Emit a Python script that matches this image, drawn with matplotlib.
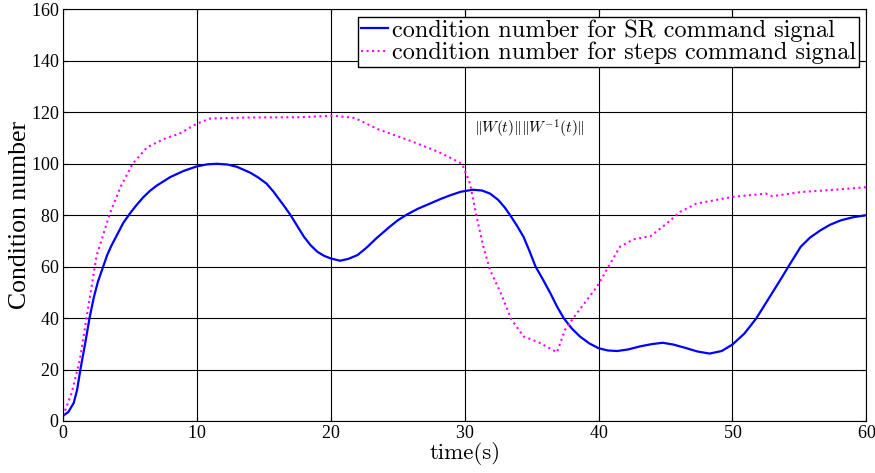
import matplotlib
matplotlib.use("Agg")
import matplotlib.pyplot as plt

# condition number for the SR command signal
t_sr = [0, 0.4, 0.8, 1.05, 1.3, 1.65, 2.0, 2.3, 2.6, 3.0, 3.3, 3.6, 4, 4.5, 5, 5.5,
        6, 6.5, 7, 8, 9, 10, 10.8, 11.5, 12.3, 13, 14, 14.6, 15.2, 15.7, 16.2, 16.6,
        17, 17.5, 18, 18.5, 19, 19.5, 20, 20.7, 21.3, 22, 22.7, 23.4, 24.4, 25, 25.6,
        26.5, 27.4, 28.2, 28.9, 29.7, 30.6, 31.3, 31.9, 32.5, 33, 33.4, 33.9, 34.4,
        34.85, 35.3, 35.85, 36.4, 36.9, 37.4, 38, 38.6, 39.3, 40, 40.7, 41.4, 42.2,
        43.1, 44, 44.8, 45.6, 46.5, 47.4, 48.3, 49.2, 50, 50.9, 51.8, 52.7, 53.6,
        54.3, 55.1, 55.8, 56.6, 57.3, 58.1, 59, 60]
cn_sr = [2, 3.5, 7, 12, 20, 30, 40.5, 48, 54, 60, 64.5, 68, 72, 77, 80.7, 84,
         87, 89.5, 91.5, 94.8, 97.2, 99, 99.8, 100, 99.7, 98.8, 96.5, 94.6, 92.3,
         89.3, 85.8, 83, 80, 75.8, 71.6, 68.3, 65.8, 64.2, 63.2, 62.3, 63, 64.5,
         67.5, 71, 75.5, 78, 80, 82.5, 84.5, 86.3, 87.7, 89.1, 89.9, 89.6, 88.4, 86,
         83, 80, 76, 71.6, 66, 60, 55, 49.7, 44.5, 40, 36, 32.9, 30.2, 28.3, 27.4,
         27.2, 27.8, 29, 29.9, 30.4, 29.7, 28.4, 27, 26.2, 27.2, 29.7, 34, 40, 47.5,
         55, 61, 67.7, 71.3, 74.2, 76.3, 78, 79.2, 80]

# condition number for the steps command signal
t_steps = [0, 0.15, 0.65, 1.27, 1.77, 2.5, 3.5, 4.3, 5.2, 6.3, 7.7, 8.7, 10, 11, 14,
           17.7, 20.2, 21.8, 23.5, 25.9, 28.1, 29.8, 30.2, 30.4, 30.9, 31.4, 31.9,
           32.7, 33.5, 34.4, 35.6, 36.9, 37.5, 38.4, 39.9, 40.6, 41.6, 42.6, 43.9,
           45.1, 46.1, 47.3, 50, 52.5, 53, 55.1, 57.6, 60]
cn_steps = [2, 4, 11, 24, 40.5, 64, 80.7, 91, 100, 106.5, 110, 111.7, 115.6, 117.6,
            118, 118.1, 118.7, 117.8, 113.5, 109, 104.5, 100, 95, 92.3, 79.3, 67.7,
            58.7, 49.7, 39.4, 32.9, 30.4, 26.7, 35.5, 42, 52.3, 58.7, 67.7, 70.6,
            71.9, 76.8, 81.3, 84.5, 87.1, 88.4, 87.4, 89, 89.9, 90.9]

xticks = [0, 10, 20, 30, 40, 50, 60]
yticks = [0, 20, 40, 60, 80, 100, 120, 140, 160]

plt.rcParams['mathtext.fontset'] = 'cm'
plt.rcParams['axes.formatter.use_mathtext'] = True

fig = plt.figure(figsize=(8.75, 4.73), dpi=100)
ax = fig.add_axes([0.072, 0.11, 0.918, 0.87])

ax.plot(t_sr, cn_sr, color='blue', lw=1.6,
        label='condition number for SR command signal')
ax.plot(t_steps, cn_steps, color='magenta', lw=1.5, linestyle=':',
        label='condition number for steps command signal')

ax.set_xlim(0, 60)
ax.set_ylim(0, 160)
ax.set_xticks(xticks)
ax.set_yticks(yticks)
ax.grid(True, color='k', lw=0.8, linestyle='-')
ax.tick_params(direction='in', top=True, right=True, labelsize=13, pad=3)
for lab in ax.get_xticklabels() + ax.get_yticklabels():
    lab.set_family('Liberation Serif')

ax.set_xlabel('time(s)', fontsize=16.5, family='cmr10', labelpad=0)
ax.set_ylabel('Condition number', fontsize=18.5, family='Liberation Serif', labelpad=0)

ax.text(30.7, 113.5, r'$\|W(t)\|\|W^{-1}(t)\|$', fontsize=11, va='center')

leg = ax.legend(loc='upper right', prop={'family': 'cmr10', 'size': 17.5},
                handlelength=1.1, handletextpad=0.2, borderpad=0.1,
                labelspacing=0.0, borderaxespad=0.3, fancybox=False,
                framealpha=1)
leg.get_frame().set_edgecolor('k')
leg.get_frame().set_linewidth(1.0)

fig.savefig('out.png', dpi=100)
